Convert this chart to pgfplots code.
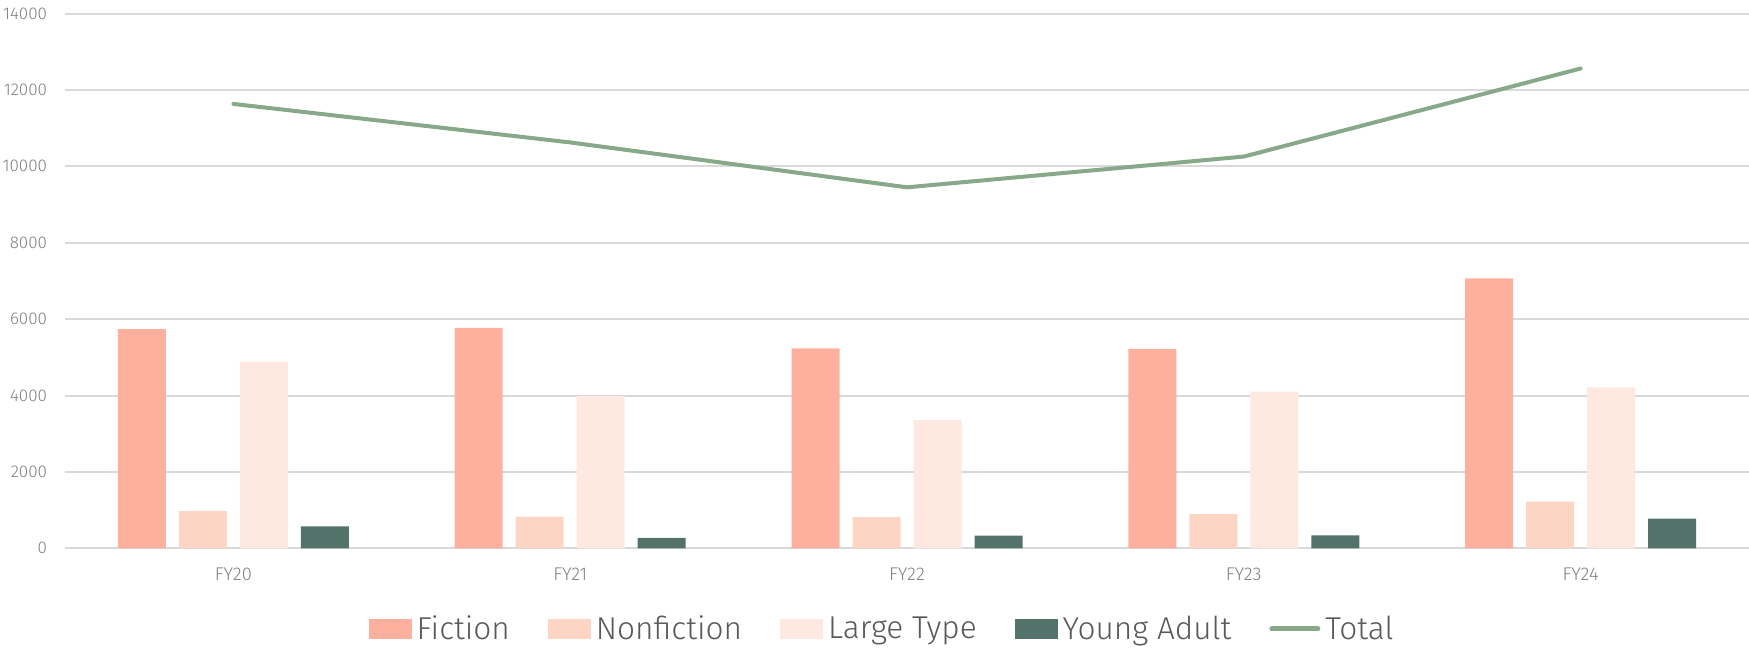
\documentclass[border=0pt]{standalone}
\usepackage{fontspec}
\setmainfont{Fira Sans}[UprightFont={* Light}]
\usepackage{pgfplots}
\pgfplotsset{compat=1.18}
\definecolor{fic}{HTML}{FDB09E}
\definecolor{nonfic}{HTML}{FDD5C5}
\definecolor{large}{HTML}{FEE8E0}
\definecolor{ya}{HTML}{53736A}
\definecolor{tot}{HTML}{87A98A}
\definecolor{gridc}{HTML}{D9D9D9}
\definecolor{tickc}{HTML}{7F7F7F}
\definecolor{legc}{HTML}{595959}
\begin{document}
\begin{tikzpicture}
\useasboundingbox (0,0) rectangle (874.5pt,325pt);
\begin{axis}[
  at={(32.5pt,50.85pt)}, anchor=south west,
  scale only axis, width=842pt, height=267.4pt,
  xmin=-0.5, xmax=4.5, ymin=0, ymax=14000,
  xtick={0,1,2,3,4}, xticklabels={FY20,FY21,FY22,FY23,FY24},
  ytick={0,2000,4000,6000,8000,10000,12000,14000},
  ymajorgrids, grid style={gridc, line width=1pt},
  axis line style={draw=none},
  major tick length=0pt,
  tick label style={font=\fontsize{8.5}{10}\selectfont, text=tickc},
  yticklabel style={anchor=east, inner sep=0pt, xshift=-8.8pt},
  xticklabel style={anchor=center, inner sep=0pt, yshift=-13pt, font=\fontsize{9.2}{11}\selectfont},
  /pgf/number format/assume math mode=true,
  /pgf/number format/1000 sep={},
  scaled y ticks=false,
  legend columns=5,
  legend cell align=left,
  legend style={draw=none, fill=none, at={(0.4846,-0.1508)}, anchor=center,
    font=\fontsize{15.8}{18}\selectfont, text=legc,
    nodes={inner sep=0pt},
    column sep=2.5pt,
    /tikz/every even column/.append style={column sep=19pt}},
]
\addplot[ybar, bar width=24pt, bar shift=-45.75pt, fill=fic, draw=none,
  legend image code/.code={\fill[fic] (0pt,-5pt) rectangle (21.5pt,5pt);}]
  coordinates {(0,5740) (1,5772) (2,5235) (3,5218) (4,7068)};
\addlegendentry{Fiction}
\addplot[ybar, bar width=24pt, bar shift=-15.25pt, fill=nonfic, draw=none,
  legend image code/.code={\fill[nonfic] (0pt,-5pt) rectangle (21.5pt,5pt);}]
  coordinates {(0,976) (1,828) (2,819) (3,897) (4,1223)};
\addlegendentry{Nonfiction}
\addplot[ybar, bar width=24pt, bar shift=15.25pt, fill=large, draw=none,
  legend image code/.code={\fill[large] (0pt,-5pt) rectangle (21.5pt,5pt);}]
  coordinates {(0,4883) (1,3984) (2,3354) (3,4103) (4,4211)};
\addlegendentry{Large Type}
\addplot[ybar, bar width=24pt, bar shift=45.75pt, fill=ya, draw=none,
  legend image code/.code={\fill[ya] (0pt,-5pt) rectangle (21.5pt,5pt);}]
  coordinates {(0,575) (1,270) (2,331) (3,340) (4,775)};
\addlegendentry{Young Adult}
\addplot[tot, line width=2pt, line cap=round, line join=round, mark=none,
  legend image code/.code={\draw[tot, line width=2.5pt, line cap=round] (0pt,0pt) -- (23pt,0pt);}]
  coordinates {(0,11633) (1,10625) (2,9450) (3,10255) (4,12560)};
\addlegendentry{Total}
\end{axis}
\end{tikzpicture}
\end{document}
